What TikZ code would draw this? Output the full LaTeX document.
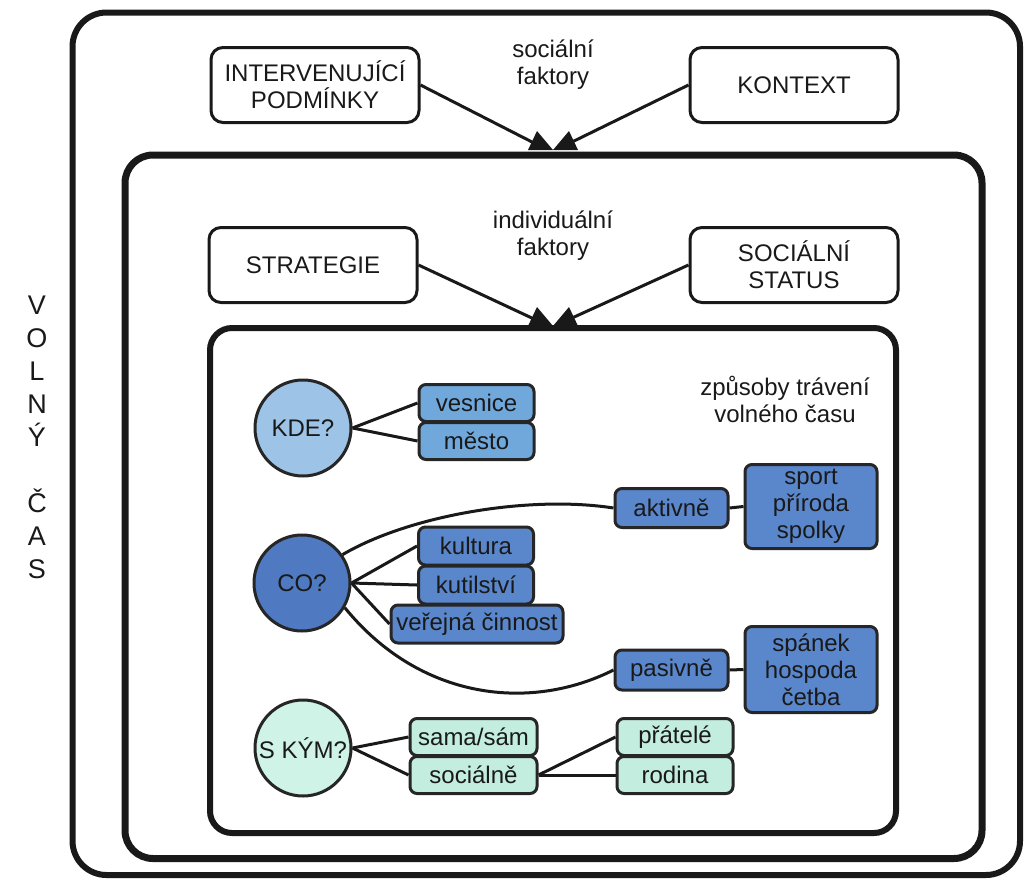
\documentclass[tikz,border=0pt]{standalone}
\usepackage{fontspec}
\setmainfont{Liberation Sans}
\usetikzlibrary{calc}
\pgfdeclarelayer{background}
\pgfsetlayers{background,main}
\definecolor{kdelight}{HTML}{9DC3E6}
\definecolor{kdemid}{HTML}{71A8DC}
\definecolor{codark}{HTML}{4F79C0}
\definecolor{comid}{HTML}{5A86CB}
\definecolor{skmint}{HTML}{CFF3E7}
\definecolor{skbox}{HTML}{C3EEDF}
\tikzstyle{frame}=[draw=black!90,rounded corners=28pt]
\tikzstyle{factor}=[draw=black!90,line width=3pt,rounded corners=12pt,minimum width=208pt,minimum height=75pt,align=center,inner sep=0pt]
\tikzstyle{question}=[circle,draw=black!85,line width=3pt,minimum size=96pt,inner sep=0pt]
\tikzstyle{answer}=[draw=black!85,line width=3pt,rounded corners=7pt,align=center,inner sep=0pt]
\tikzstyle{edge}=[draw=black!90,line width=3pt]

\begin{document}
\begin{tikzpicture}[x=1pt,y=-1pt,font=\fontsize{24}{27}\selectfont,text=black!90]
    \useasboundingbox (0,0) rectangle (1028,881);
    % The three nested frames
    \path[frame,line width=6pt,rounded corners=34pt] (72.5,12.5) rectangle (1020,875);
    \path[frame,line width=7pt] (125,155) rectangle (982,858.5);
    \path[frame,line width=6pt,rounded corners=22pt] (210,328) rectangle (896,833);

    % Factor boxes and their captions
    \foreach \pos/\name/\txt in {{(315,85)/INT/INTERVENUJÍCÍ\\PODMÍNKY}, {(794,85)/KON/KONTEXT},
        {(313,265)/STR/STRATEGIE}, {(794,265)/STAT/SOCIÁLNÍ\\STATUS}}
        \node[factor] (\name) at \pos {\txt};
    \node[align=center] (socf) at (553,65) {sociální\\faktory};
    \node[align=center] (indf) at (553,236) {individuální\\faktory};
    \node[align=center] (zpus) at (785,399) {způsoby trávení\\volného času};
    \node[align=center,font=\fontsize{27}{33}\selectfont] (volny) at (37,437) {V\\O\\L\\N\\Ý\\[33pt]Č\\A\\S};

    % Arrow heads sitting on the frames
    \foreach \x/\y in {537/131, 537/307}
        \fill[black!90] (\x-9,\y+19) -- (\x,\y) -- (\x+16,\y+19) -- cycle;
    \foreach \x/\y in {569/131, 569/307}
        \fill[black!90] (\x-16,\y+19) -- (\x,\y) -- (\x+9,\y+19) -- cycle;
    \coordinate (a1) at (534,143);
    \coordinate (a2) at (572,142);
    \coordinate (a3) at (534,319);
    \coordinate (a4) at (572,318);
    \foreach \source/\dest in {INT.east/a1, KON.west/a2, STR.east/a3, STAT.west/a4}
        \path[edge] (\source) -- (\dest);

    % The questions
    \foreach \pos/\name/\col/\txt in {{(303,428)/KDE/kdelight/KDE?}, {(302,583)/CO/codark/CO?}, {(303,748)/SKYM/skmint/S KÝM?}}
        \node[question,fill=\col] (\name) at \pos {\txt};

    % The answers
    \foreach \pos/\name/\w/\h/\col/\txt in {{(476.5,403)/ves/115/37/kdemid/vesnice}, {(476.5,441)/mes/115/37/kdemid/město},
        {(476,546)/kul/115/38/comid/kultura}, {(476,585)/kut/115/38/comid/kutilství}, {(477,624)/ver/172/38/comid/veřejná činnost},
        {(671.5,508)/akt/113/39/comid/aktivně}, {(811,506.5)/spo/132/84/comid/sport\\příroda\\spolky},
        {(671.5,670)/pas/113/40/comid/pasivně}, {(811,669.5)/spa/132/86/comid/spánek\\hospoda\\četba},
        {(473.5,737)/sam/127/37/skbox/{sama/sám}}, {(473.5,775)/socl/127/37/skbox/sociálně},
        {(675,737)/pra/116/37/skbox/přátelé}, {(675,775)/rod/116/37/skbox/rodina}}
        \node[answer,fill=\col,minimum width=\w pt,minimum height=\h pt] (\name) at \pos {\txt};

    % Connect questions with answers
    \begin{pgfonlayer}{background}
    \foreach \source/\dest in {KDE/ves, KDE/mes, CO/kul, CO/kut, CO/ver, SKYM/sam, SKYM/socl, socl/pra, socl/rod, akt/spo, pas/spa}
        \path[edge] (\source.east) -- (\dest.west);
    \path[edge] (CO.35) .. controls (410,515) and (530,495) .. (akt.west);
    \path[edge] (CO.-30) .. controls (420,700) and (530,712) .. (pas.west);
    \end{pgfonlayer}
\end{tikzpicture}
\end{document}
